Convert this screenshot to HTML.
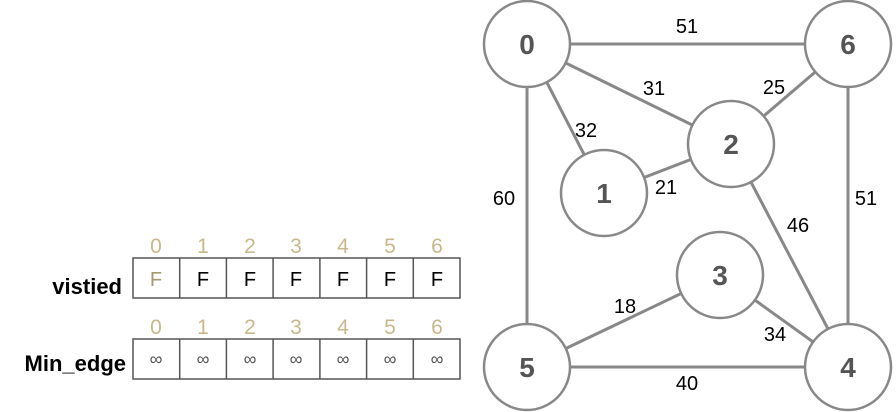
<!DOCTYPE html>
<html><head><style>
html,body{margin:0;padding:0;background:#fff;width:896px;height:412px;overflow:hidden}
svg text{font-family:"Liberation Sans","DejaVu Sans",sans-serif}
</style></head><body>
<svg width="896" height="412" viewBox="0 0 896 412" xmlns="http://www.w3.org/2000/svg">
<g stroke="#888" stroke-width="3" fill="none">
<line x1="527" y1="44" x2="848" y2="44"/>
<line x1="527" y1="44" x2="731" y2="144"/>
<line x1="527" y1="44" x2="604" y2="193"/>
<line x1="527" y1="44" x2="527" y2="367"/>
<line x1="848" y1="44" x2="731" y2="144"/>
<line x1="848" y1="44" x2="848" y2="367"/>
<line x1="604" y1="193" x2="731" y2="144"/>
<line x1="731" y1="144" x2="848" y2="367"/>
<line x1="720" y1="275" x2="527" y2="367"/>
<line x1="720" y1="275" x2="848" y2="367"/>
<line x1="527" y1="367" x2="848" y2="367"/>
</g>
<g stroke="#888" stroke-width="2.5" fill="#fff">
<circle cx="527" cy="44" r="43"/>
<circle cx="848" cy="44" r="43"/>
<circle cx="731" cy="144" r="43"/>
<circle cx="604" cy="193" r="43"/>
<circle cx="720" cy="275" r="43"/>
<circle cx="527" cy="367" r="43"/>
<circle cx="848" cy="367" r="43"/>
</g>
<g fill="#555" font-size="28" font-weight="bold" text-anchor="middle">
<text x="527" y="54">0</text>
<text x="848" y="54">6</text>
<text x="731" y="154">2</text>
<text x="604" y="203">1</text>
<text x="720" y="285">3</text>
<text x="527" y="377">5</text>
<text x="848" y="377">4</text>
</g>
<g fill="#000" font-size="20" text-anchor="middle">
<text x="687" y="33">51</text>
<text x="654" y="95">31</text>
<text x="774" y="94">25</text>
<text x="586" y="137">32</text>
<text x="666" y="194">21</text>
<text x="504" y="205">60</text>
<text x="866" y="205">51</text>
<text x="798" y="232">46</text>
<text x="625" y="313">18</text>
<text x="775" y="341">34</text>
<text x="687" y="390">40</text>
</g>
<g font-size="22" fill="#000" font-weight="bold" text-anchor="end">
<text x="122" y="294">vistied</text>
<text x="126" y="371">Min_edge</text>
</g>
<g stroke="#555" stroke-width="1.5" fill="none">
<rect x="133" y="258" width="327" height="40"/>
<rect x="133" y="339" width="327" height="40"/>
<path d="M179.7 258v40M226.4 258v40M273.1 258v40M319.9 258v40M366.6 258v40M413.3 258v40M179.7 339v40M226.4 339v40M273.1 339v40M319.9 339v40M366.6 339v40M413.3 339v40"/>
</g>
<g font-size="21" text-anchor="middle" fill="#c8b88a">
<text x="156" y="253">0</text><text x="203" y="253">1</text><text x="250" y="253">2</text><text x="296" y="253">3</text><text x="343" y="253">4</text><text x="390" y="253">5</text><text x="437" y="253">6</text>
<text x="156" y="334">0</text><text x="203" y="334">1</text><text x="250" y="334">2</text><text x="296" y="334">3</text><text x="343" y="334">4</text><text x="390" y="334">5</text><text x="437" y="334">6</text>
</g>
<g font-size="20" text-anchor="middle" fill="#000">
<text x="156" y="286" fill="#a89870">F</text><text x="203" y="286">F</text><text x="250" y="286">F</text><text x="296" y="286">F</text><text x="343" y="286">F</text><text x="390" y="286">F</text><text x="437" y="286">F</text>
</g>
<g font-size="18" text-anchor="middle" fill="#555">
<text x="156" y="365">∞</text><text x="203" y="365">∞</text><text x="250" y="365">∞</text><text x="296" y="365">∞</text><text x="343" y="365">∞</text><text x="390" y="365">∞</text><text x="437" y="365">∞</text>
</g>
</svg>
</body></html>
